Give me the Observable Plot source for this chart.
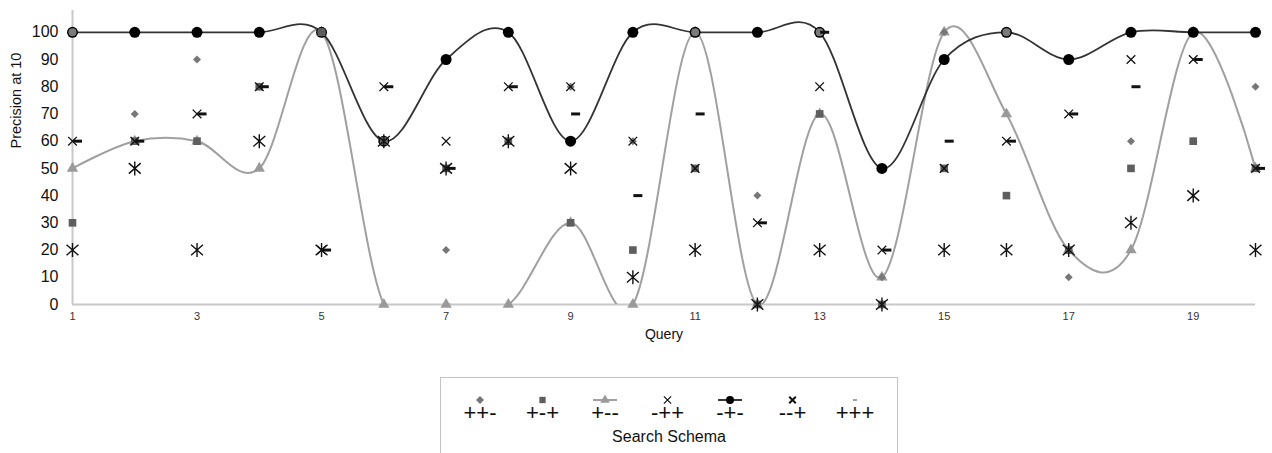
<!DOCTYPE html>
<html><head><meta charset="utf-8">
<script src="https://cdn.jsdelivr.net/npm/d3@7"></script>
<script src="https://cdn.jsdelivr.net/npm/@observablehq/plot@0.6"></script>
<style>
body{margin:0;background:#fff;font-family:"Liberation Sans",Arial,sans-serif;}
#wrap{position:relative;width:1272px;height:453px;overflow:hidden;background:#fff;}
#chart{position:absolute;left:0;top:0;}
#legend{position:absolute;left:440px;top:377px;}
</style></head><body><div id="wrap"><div id="chart"></div><div id="legend"></div></div>
<script>
// ---- data ----
const queries = [1,2,3,4,5,6,7,8,9,10,11,12,13,14,15,16,17,18,19,20];
const xTicks = [1,3,5,7,9,11,13,15,17,19];
const yTicks = [0,10,20,30,40,50,60,70,80,90,100];
const seriesNames = ["++-","+-+","+--","-++","-+-","--+","+++"];
const valsPPM = [100,70,90,80,100,60,20,60,80,60,100,40,100,10,100,100,10,60,60,80]; // ++-
const valsPMP = [30,60,60,80,100,60,50,60,30,20,50,0,70,0,50,40,20,50,60,50];      // +-+
const valsPMM = [50,60,60,50,100,0,0,0,30,0,100,0,70,10,100,70,20,20,100,50];       // +--
const valsMPP = [60,60,70,80,20,80,60,80,80,60,50,30,80,20,50,60,70,90,90,50];      // -++
const valsMPM = [100,100,100,100,100,60,90,100,60,100,100,100,100,50,90,100,90,100,100,100]; // -+-
const valsMMP = [20,50,20,60,20,60,50,60,50,10,20,0,20,0,20,20,20,30,40,20];        // --+
const valsPPP = [60,60,70,80,20,80,50,80,70,40,70,30,100,20,60,60,70,80,90,50];     // +++
const xLabel = "Query";
const yLabel = "Precision at 10";
const legendTitle = "Search Schema";

const toRows = vals => queries.map((q, i) => ({q, v: vals[i]}));
const ppm = toRows(valsPPM), pmp = toRows(valsPMP), pmm = toRows(valsPMM),
      mpp = toRows(valsMPP), mpm = toRows(valsMPM), mmp = toRows(valsMMP), ppp = toRows(valsPPP);
// circles of -+- that coincide with a ++- diamond appear grey-filled
const greyCircles = mpm.filter((d, i) => valsPPM[i] === d.v);

const starSymbol = {draw(ctx, size){ const r = Math.sqrt(size/Math.PI); const a = r*0.85, b = r*0.75;
  ctx.moveTo(0,-r); ctx.lineTo(0,r); ctx.moveTo(-a,-b); ctx.lineTo(a,b); ctx.moveTo(-a,b); ctx.lineTo(a,-b);}};
const dashSymbol = {draw(ctx, size){ const r = Math.sqrt(size/Math.PI); ctx.moveTo(-r,0); ctx.lineTo(r,0);}};
const rhombSymbol = {draw(ctx, size){ const r = Math.sqrt(size/Math.PI);
  ctx.moveTo(0,-r); ctx.lineTo(r,0); ctx.lineTo(0,r); ctx.lineTo(-r,0); ctx.closePath();}};

const chart = Plot.plot({
  width: 1272, height: 360,
  marginLeft: 72, marginRight: 17, marginTop: 10, marginBottom: 56,
  x: {domain: [1, 20]},
  y: {domain: [0, 108]},
  style: {fontFamily: "'Liberation Sans', Arial, sans-serif", background: "white", color: "#111"},
  marks: [
    Plot.ruleY([0], {stroke: "#c8c8c8", strokeWidth: 2}),
    Plot.ruleX([1], {stroke: "#c8c8c8", strokeWidth: 2}),
    Plot.axisY({ticks: yTicks, tickSize: 0, tickPadding: 14, fontSize: 16, label: null}),
    Plot.axisX({ticks: xTicks, tickSize: 0, tickPadding: 8, fontSize: 11, label: null, fill: "#333"}),
    Plot.text([yLabel], {text: d => d, frameAnchor: "left", rotate: -90, dx: -56, dy: -9, fontSize: 14.5, fill: "#111"}),
    Plot.text([xLabel], {text: d => d, frameAnchor: "bottom", dy: 34, fontSize: 14, fill: "#111"}),
    Plot.line(pmm, {x: "q", y: "v", stroke: "#a0a0a0", strokeWidth: 2, curve: "cardinal", tension: 0, clip: true}),
    Plot.line(mpm, {x: "q", y: "v", stroke: "#333", strokeWidth: 1.8, curve: "cardinal", tension: 0}),
    Plot.dot(pmm, {x: "q", y: "v", symbol: "triangle", r: 4.2, fill: "#9a9a9a"}),
    Plot.dot(ppm, {x: "q", y: "v", symbol: rhombSymbol, r: 4, fill: "#777"}),
    Plot.dot(mpm, {x: "q", y: "v", symbol: "circle", r: 5.5, fill: "#000"}),
    Plot.dot(greyCircles, {x: "q", y: "v", symbol: "circle", r: 4, fill: "#7a7a7a"}),
    Plot.dot(pmp, {x: "q", y: "v", symbol: "square", r: 4.3, fill: "#5e5e5e"}),
    Plot.dot(mpp, {x: "q", y: "v", symbol: "times", r: 4, stroke: "#111", strokeWidth: 1.3, fill: "none"}),
    Plot.dot(mmp, {x: "q", y: "v", symbol: starSymbol, r: 7, stroke: "#111", strokeWidth: 1.4, fill: "none"}),
    Plot.dot(ppp, {x: "q", y: "v", symbol: dashSymbol, r: 4.5, dx: 5, stroke: "#111", strokeWidth: 3, fill: "none"})
  ]
});
document.getElementById("chart").appendChild(chart);

// ---- legend ----
const lw = 458, lh = 90, step = 62.5, x0 = 40;
const leg = d3.select("#legend").append("svg").attr("width", lw).attr("height", lh)
  .style("font-family", "'Liberation Sans', Arial, sans-serif");
leg.append("rect").attr("x", 0.5).attr("y", 0.5).attr("width", lw - 1).attr("height", lh)
  .attr("fill", "white").attr("stroke", "#c4c4c4");
const legSym = [
  g => g.append("path").attr("d", "M0,-4L4,0L0,4L-4,0Z").attr("fill", "#777"),
  g => g.append("path").attr("d", d3.symbol(d3.symbolSquare, 40)()).attr("fill", "#5e5e5e"),
  g => { g.append("line").attr("x1", -12).attr("x2", 12).attr("stroke", "#a0a0a0").attr("stroke-width", 2);
         g.append("path").attr("d", d3.symbol(d3.symbolTriangle, 40)()).attr("fill", "#9a9a9a"); },
  g => g.append("path").attr("d", d3.symbol(d3.symbolTimes, 36)()).attr("stroke", "#111").attr("stroke-width", 1.2).attr("fill", "none"),
  g => { g.append("line").attr("x1", -12).attr("x2", 12).attr("stroke", "#222").attr("stroke-width", 1.8);
         g.append("circle").attr("r", 4).attr("fill", "#000"); },
  g => g.append("path").attr("d", d3.symbol(d3.symbolTimes, 30)()).attr("stroke", "#111").attr("stroke-width", 2).attr("fill", "none"),
  g => g.append("line").attr("x1", -2).attr("x2", 2).attr("stroke", "#666").attr("stroke-width", 1.2)
];
seriesNames.forEach((name, i) => {
  const cx = x0 + i * step;
  const g = leg.append("g").attr("transform", `translate(${cx},23)`);
  legSym[i](g);
  leg.append("text").attr("x", cx).attr("y", 43).attr("text-anchor", "middle")
    .attr("font-size", 22).attr("fill", "#111").text(name);
});
leg.append("text").attr("x", 229).attr("y", 65).attr("text-anchor", "middle")
  .attr("font-size", 16).attr("fill", "#111").text(legendTitle);
</script></body></html>
